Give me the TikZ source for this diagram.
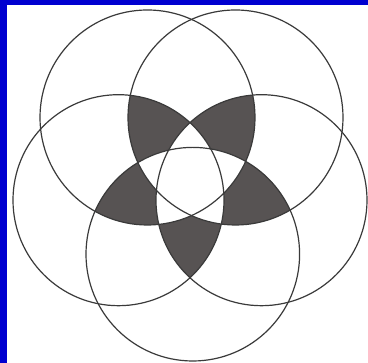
\documentclass[tikz,border=0pt]{standalone}
\definecolor{petal}{RGB}{87,83,83}
\definecolor{frameblue}{RGB}{0,0,208}
\definecolor{ink}{RGB}{58,58,58}
\begin{document}
\begin{tikzpicture}[x=1pt,y=1pt,ring/.style={draw=ink,line width=1.2pt}]
\useasboundingbox (0,0) rectangle (368,363);
\fill[white] (0,0) rectangle (368,363);
\fill[frameblue] (0,0) rectangle (6.7,363);
\fill[frameblue] (0,358.3) rectangle (368,363);
\def\rTL{107.5}\def\rTR{107.5}\def\rL{105.5}\def\rR{105.5}\def\rB{106.8}
\coordinate (TL) at (147.5,245.5);
\coordinate (TR) at (235.5,245.5);
\coordinate (L) at (118.5,162.8);
\coordinate (R) at (261.5,162.8);
\coordinate (B) at (192.8,108.8);
% petals: regions inside three consecutive circles
\begin{scope}\clip (L) circle[radius=\rL]; \clip (TL) circle[radius=\rTL]; \fill[petal] (TR) circle[radius=\rTR];\end{scope}
\begin{scope}\clip (TL) circle[radius=\rTL]; \clip (TR) circle[radius=\rTR]; \fill[petal] (R) circle[radius=\rR];\end{scope}
\begin{scope}\clip (TR) circle[radius=\rTR]; \clip (R) circle[radius=\rR]; \fill[petal] (B) circle[radius=\rB];\end{scope}
\begin{scope}\clip (R) circle[radius=\rR]; \clip (B) circle[radius=\rB]; \fill[petal] (L) circle[radius=\rL];\end{scope}
\begin{scope}\clip (B) circle[radius=\rB]; \clip (L) circle[radius=\rL]; \fill[petal] (TL) circle[radius=\rTL];\end{scope}
% regions inside four or more circles stay white
\begin{scope}\clip (TR) circle[radius=\rTR]; \clip (R) circle[radius=\rR]; \clip (B) circle[radius=\rB]; \fill[white] (L) circle[radius=\rL];\end{scope}
\begin{scope}\clip (TL) circle[radius=\rTL]; \clip (R) circle[radius=\rR]; \clip (B) circle[radius=\rB]; \fill[white] (L) circle[radius=\rL];\end{scope}
\begin{scope}\clip (TL) circle[radius=\rTL]; \clip (TR) circle[radius=\rTR]; \clip (B) circle[radius=\rB]; \fill[white] (L) circle[radius=\rL];\end{scope}
\begin{scope}\clip (TL) circle[radius=\rTL]; \clip (TR) circle[radius=\rTR]; \clip (R) circle[radius=\rR]; \fill[white] (L) circle[radius=\rL];\end{scope}
\begin{scope}\clip (TL) circle[radius=\rTL]; \clip (TR) circle[radius=\rTR]; \clip (R) circle[radius=\rR]; \fill[white] (B) circle[radius=\rB];\end{scope}
% outlines
\draw[ring] (TL) circle[radius=\rTL];
\draw[ring] (TR) circle[radius=\rTR];
\draw[ring] (L) circle[radius=\rL];
\draw[ring] (R) circle[radius=\rR];
\draw[ring] (B) circle[radius=\rB];
\end{tikzpicture}
\end{document}
